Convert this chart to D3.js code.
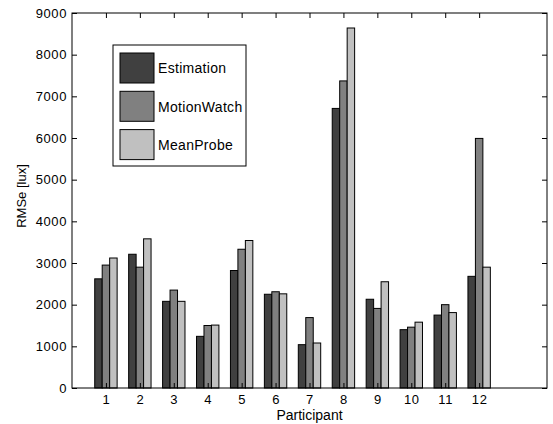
<!DOCTYPE html>
<html>
<head>
<meta charset="utf-8">
<script src="https://cdn.jsdelivr.net/npm/d3@7"></script>
<style>
  body { margin: 0; background: #fff; }
  text { font-family: "Liberation Sans", Arial, sans-serif; fill: #000; }
</style>
</head>
<body>
<svg id="chart" width="553" height="424"></svg>
<script>
// participants and RMSe values per method
var participants = [1, 2, 3, 4, 5, 6, 7, 8, 9, 10, 11, 12];
var seriesNames = ['Estimation', 'MotionWatch', 'MeanProbe'];
var estimation  = [2620, 3210, 2080, 1240, 2820, 2250, 1040, 6710, 2130, 1400, 1750, 2680];
var motionWatch = [2950, 2900, 2350, 1500, 3330, 2310, 1690, 7370, 1910, 1460, 2000, 5990];
var meanProbe   = [3120, 3580, 2080, 1510, 3540, 2260, 1080, 8640, 2550, 1580, 1810, 2900];
var yTicks = [0, 1000, 2000, 3000, 4000, 5000, 6000, 7000, 8000, 9000];

var colors = ['#404040', '#808080', '#c0c0c0'];
var series = [estimation, motionWatch, meanProbe];

var svg = d3.select('#chart');
var margin = {left: 72, top: 13, right: 6, bottom: 36};
var width = 553 - margin.left - margin.right;
var height = 424 - margin.top - margin.bottom;

var g = svg.append('g')
    .attr('transform', 'translate(' + margin.left + ',' + margin.top + ')');

var x = d3.scaleLinear().domain([0, 14]).range([0, width]);
var y = d3.scaleLinear().domain([0, 9000]).range([height, 0]);

var groupWidth = 0.66;
var barW = groupWidth / 3;

// bars
series.forEach(function (values, si) {
    g.selectAll('.bar-' + si)
        .data(values)
      .enter()
      .append('rect')
        .attr('class', 'bar-' + si)
        .attr('x', function (d, i) { return x(participants[i] - groupWidth / 2 + si * barW); })
        .attr('width', x(barW) - x(0))
        .attr('y', function (d) { return y(d); })
        .attr('height', function (d) { return y(0) - y(d); })
        .attr('fill', colors[si])
        .attr('stroke', '#000')
        .attr('stroke-width', 1);
});

// axes, MATLAB style box with inward ticks
var tickLen = 5;
g.append('g')
    .attr('transform', 'translate(0,' + height + ')')
    .call(d3.axisBottom(x).tickValues(participants).tickSizeInner(-tickLen).tickSizeOuter(0).tickPadding(6.5))
    .call(function (a) { a.select('.domain').remove(); });
g.append('g')
    .call(d3.axisTop(x).tickValues(participants).tickSizeInner(-tickLen).tickSizeOuter(0).tickFormat(''))
    .call(function (a) { a.select('.domain').remove(); });
g.append('g')
    .call(d3.axisLeft(y).tickValues(yTicks).tickFormat(d3.format('d')).tickSizeInner(-tickLen).tickSizeOuter(0).tickPadding(5))
    .call(function (a) { a.select('.domain').remove(); });
g.append('g')
    .attr('transform', 'translate(' + width + ',0)')
    .call(d3.axisRight(y).tickValues(yTicks).tickSizeInner(-tickLen).tickSizeOuter(0).tickFormat(''))
    .call(function (a) { a.select('.domain').remove(); });

g.selectAll('.tick text')
    .attr('font-size', 13)
    .attr('letter-spacing', 0.6)
    .attr('font-family', '"Liberation Sans", Arial, sans-serif');
g.selectAll('.tick line').attr('stroke', '#000');

g.append('rect')
    .attr('width', width)
    .attr('height', height)
    .attr('fill', 'none')
    .attr('stroke', '#000')
    .attr('stroke-width', 1);

// axis labels
svg.append('text')
    .attr('x', margin.left + width / 2)
    .attr('y', 420)
    .attr('text-anchor', 'middle')
    .attr('font-size', 14)
    .text('Participant');

svg.append('text')
    .attr('transform', 'translate(26,196) rotate(-90)')
    .attr('text-anchor', 'middle')
    .attr('font-size', 13)
    .text('RMSe [lux]');

// legend
var legend = svg.append('g').attr('transform', 'translate(113,45)');
legend.append('rect')
    .attr('width', 133)
    .attr('height', 121)
    .attr('fill', '#fff')
    .attr('stroke', '#000');
seriesNames.forEach(function (name, i) {
    legend.append('rect')
        .attr('x', 7)
        .attr('y', 8 + i * 38.3)
        .attr('width', 34)
        .attr('height', 30)
        .attr('fill', colors[i])
        .attr('stroke', '#000');
    legend.append('text')
        .attr('x', 45)
        .attr('y', 23.5 + i * 38.3)
        .attr('dy', '0.35em')
        .attr('font-size', 14)
        .attr('letter-spacing', 0.3)
        .text(name);
});
</script>
</body>
</html>
